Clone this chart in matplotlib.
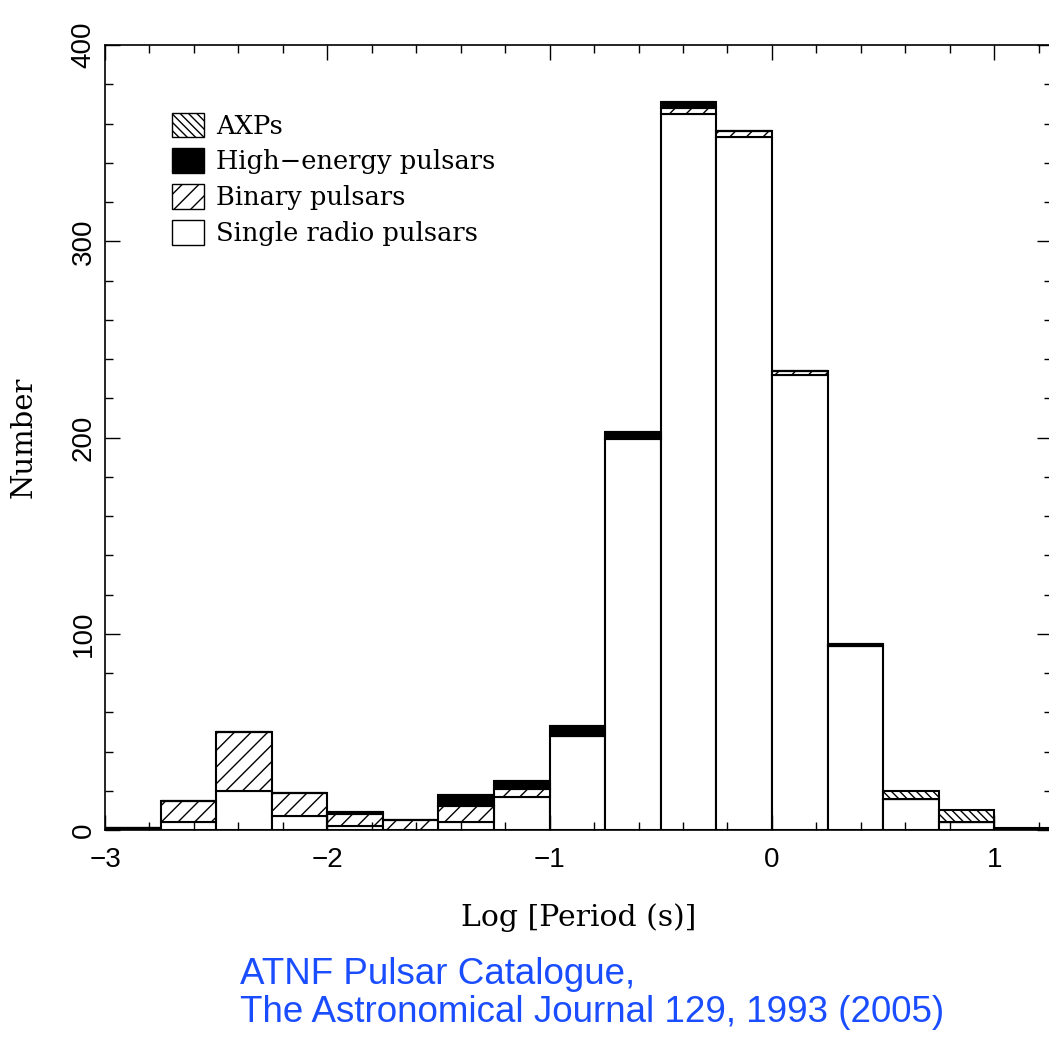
import numpy as np
import matplotlib
matplotlib.use("Agg")
from matplotlib import pyplot as plt
from matplotlib.patches import Patch
from matplotlib.ticker import MultipleLocator

plt.rcParams["hatch.linewidth"] = 1.0

# log10(P) bins, 0.25 wide
bin_left = [-3.0, -2.75, -2.5, -2.25, -2.0, -1.75, -1.5, -1.25, -1.0,
            -0.75, -0.5, -0.25, 0.0, 0.25, 0.5, 0.75, 1.0]
single = [1, 4, 20, 7, 2, 0, 4, 17, 48, 199, 365, 353, 232, 94, 16, 4, 0]
binary = [0, 11, 30, 12, 6, 5, 8, 4, 0, 1, 3, 3, 2, 0, 0, 0, 0]
high_energy = [0, 0, 0, 0, 1, 0, 6, 4, 5, 3, 3, 0, 0, 1, 0, 0, 0]
axps = [0, 0, 0, 0, 0, 0, 0, 0, 0, 0, 0, 0, 0, 0, 4, 6, 1]

labels = ["AXPs", "High\u2212energy pulsars", "Binary pulsars",
          "Single radio pulsars"]

fig = plt.figure(figsize=(10.49, 10.37), dpi=100)
ax = fig.add_axes([0.1001, 0.1996, 0.9028, 0.757])

width = 0.25
x = np.array(bin_left)
s = np.array(single)
b = np.array(binary)
h = np.array(high_energy)
a = np.array(axps)

kw = dict(width=width, align="edge", edgecolor="black", linewidth=1.5)
ax.bar(x, s, color="white", **kw)
ax.bar(x, b, bottom=s, color="white", hatch="//", **kw)
ax.bar(x, h, bottom=s + b, color="black", **kw)
ax.bar(x, a, bottom=s + b + h, color="white", hatch="\\\\\\\\", **kw)

ax.set_xlim(-3, 1.26)
ax.set_ylim(0, 400)

ax.xaxis.set_major_locator(MultipleLocator(1))
ax.xaxis.set_minor_locator(MultipleLocator(0.2))
ax.yaxis.set_major_locator(MultipleLocator(100))
ax.yaxis.set_minor_locator(MultipleLocator(20))
ax.tick_params(which="both", direction="in", top=True, right=True,
               width=1.0, labelsize=20)
ax.tick_params(which="major", length=11)
ax.tick_params(axis="x", which="major", pad=12)
ax.tick_params(axis="y", which="major", pad=6)
ax.tick_params(which="minor", length=5.5)
for lab in ax.get_yticklabels():
    lab.set_rotation(90)
    lab.set_va("center")
for lab in ax.get_xticklabels() + ax.get_yticklabels():
    lab.set_family("Liberation Sans")
for sp in ax.spines.values():
    sp.set_linewidth(1.2)

ax.set_xlabel("Log [Period (s)]", family="DejaVu Serif", fontsize=21.5,
              labelpad=22)
ax.set_ylabel("Number", family="DejaVu Serif", fontsize=21, labelpad=24)

handles = [
    Patch(facecolor="white", edgecolor="black", hatch="\\\\\\\\", linewidth=1),
    Patch(facecolor="black", edgecolor="black", linewidth=1),
    Patch(facecolor="white", edgecolor="black", hatch="//", linewidth=1),
    Patch(facecolor="white", edgecolor="black", linewidth=1),
]
ax.legend(handles, labels, loc="upper left", bbox_to_anchor=(0.06, 0.927),
          frameon=False, prop=dict(family="DejaVu Serif", size=18.5),
          handlelength=1.25, handleheight=1.1, labelspacing=0.38,
          handletextpad=0.45, borderaxespad=0)

fig.text(0.229, 0.007, "ATNF Pulsar Catalogue,\nThe Astronomical Journal 129, 1993 (2005)",
         color="#1a4dff", family="Liberation Sans", fontsize=26.5,
         linespacing=1.1, va="bottom", ha="left")

fig.savefig("out.png", dpi=100)
